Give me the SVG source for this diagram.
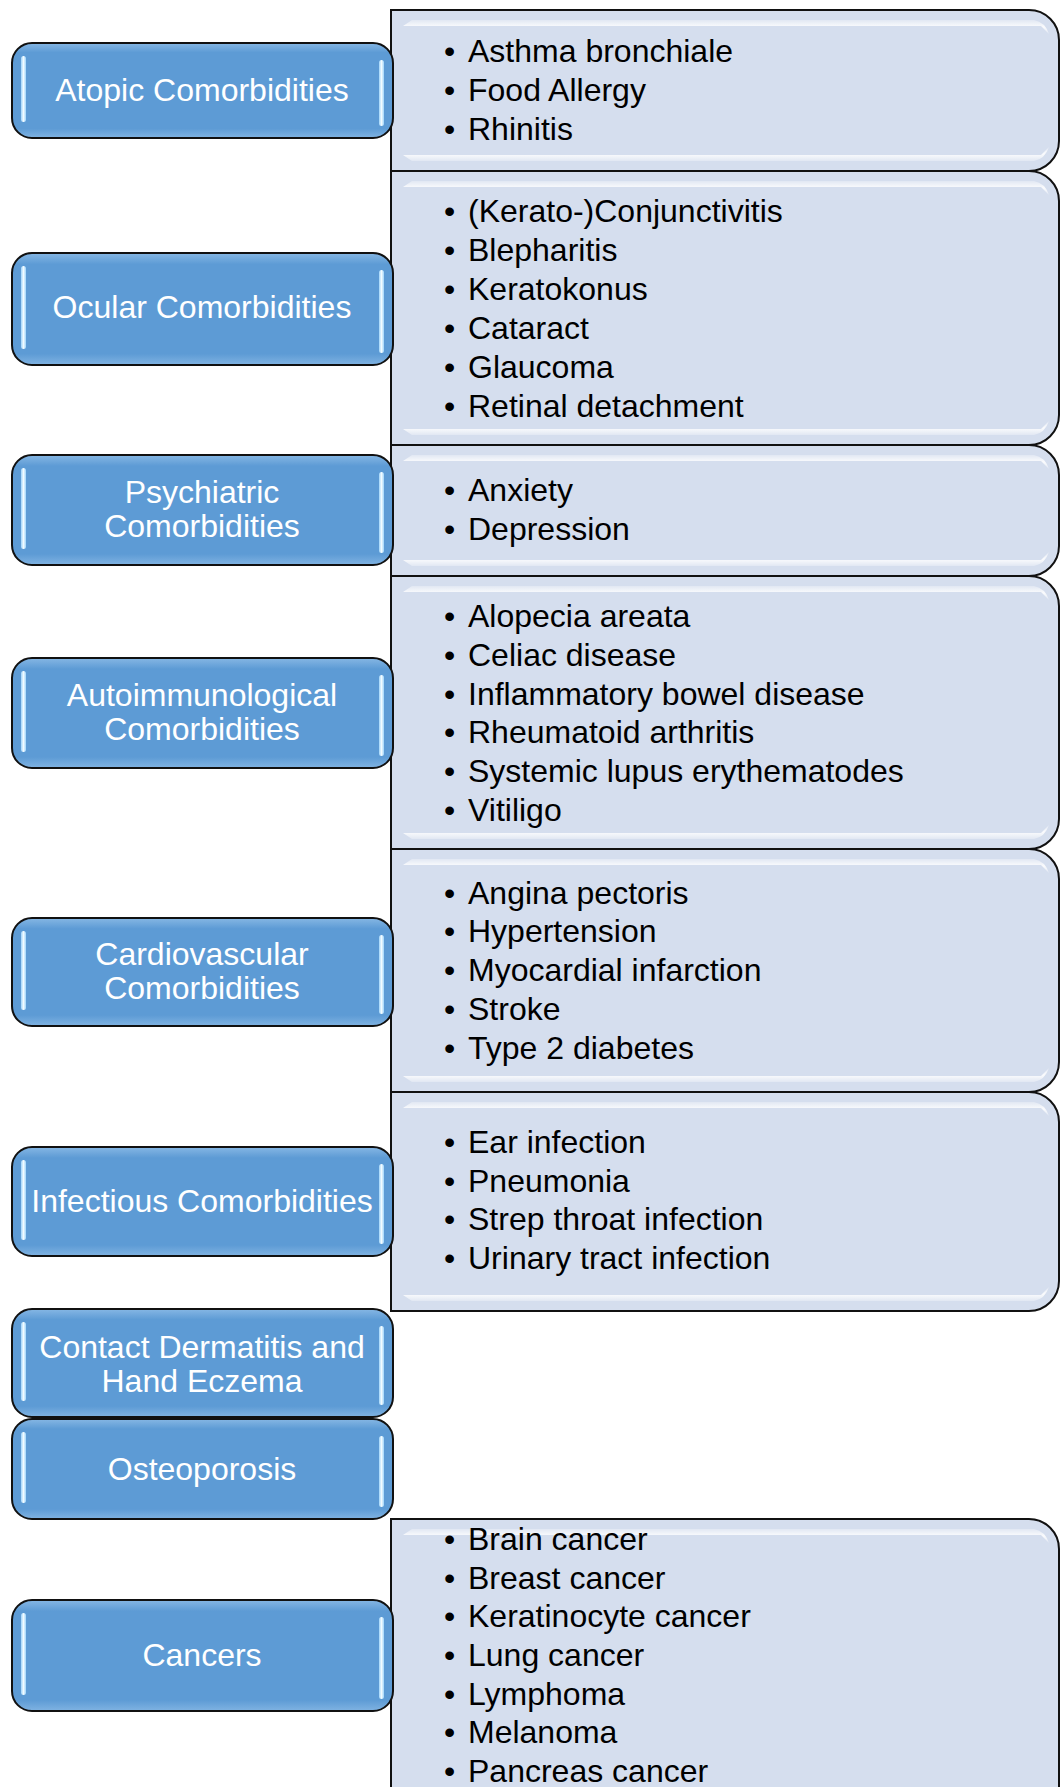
<svg xmlns="http://www.w3.org/2000/svg" width="1060" height="1787" viewBox="0 0 1060 1787">
<defs>
<linearGradient id="gBlue" x1="0" y1="0" x2="0" y2="1">
<stop offset="0" stop-color="#86B7E4"/>
<stop offset="0.1" stop-color="#5D9BD5"/>
<stop offset="0.9" stop-color="#5D9BD5"/>
<stop offset="1" stop-color="#80B3E2"/>
</linearGradient>
<linearGradient id="gBar" x1="0" y1="0" x2="1" y2="0">
<stop offset="0" stop-color="#9FD4FA"/>
<stop offset="0.5" stop-color="#F2FBFF"/>
<stop offset="1" stop-color="#9FD4FA"/>
</linearGradient>
<linearGradient id="gHi" x1="0" y1="0" x2="0" y2="1">
<stop offset="0" stop-color="#FFFFFF" stop-opacity="0.3"/>
<stop offset="0.5" stop-color="#FFFFFF" stop-opacity="0.9"/>
<stop offset="1" stop-color="#FFFFFF" stop-opacity="0.3"/>
</linearGradient>
</defs>
<style>
.lb{fill:url(#gBlue);stroke:#111;stroke-width:2}
.bar{fill:url(#gBar)}
.rb{fill:#D5DEEE;stroke:#111;stroke-width:2}
.hi{fill:url(#gHi)}
.lt{font-family:"Liberation Sans",Arial,sans-serif;font-size:32px;fill:#FFFFFF;text-anchor:middle}
.rt{font-family:"Liberation Sans",Arial,sans-serif;font-size:32px;fill:#000000}
</style>
<rect width="1060" height="1787" fill="#FFFFFF"/>

<g id="lists">
<g id="list-atopic">
<path class="rb" d="M391,10 H1029 A30,30 0 0 1 1059,40 V141 A30,30 0 0 1 1029,171 H391 Z"/>
<path class="hi" d="M403,26 L412,20 H1034 Q1045,22 1049,34 L1041,26 H412 Z"/>
<path class="hi" d="M403,155 L412,161 H1034 Q1045,159 1049,147 L1041,155 H412 Z"/>
<text class="rt" x="444" y="62">•</text><text class="rt" x="468" y="62">Asthma bronchiale</text>
<text class="rt" x="444" y="101">•</text><text class="rt" x="468" y="101">Food Allergy</text>
<text class="rt" x="444" y="140">•</text><text class="rt" x="468" y="140">Rhinitis</text>
</g>
<g id="list-ocular">
<path class="rb" d="M391,171 H1029 A30,30 0 0 1 1059,201 V415 A30,30 0 0 1 1029,445 H391 Z"/>
<path class="hi" d="M403,187 L412,181 H1034 Q1045,183 1049,195 L1041,187 H412 Z"/>
<path class="hi" d="M403,429 L412,435 H1034 Q1045,433 1049,421 L1041,429 H412 Z"/>
<text class="rt" x="444" y="222">•</text><text class="rt" x="468" y="222">(Kerato-)Conjunctivitis</text>
<text class="rt" x="444" y="261">•</text><text class="rt" x="468" y="261">Blepharitis</text>
<text class="rt" x="444" y="300">•</text><text class="rt" x="468" y="300">Keratokonus</text>
<text class="rt" x="444" y="339">•</text><text class="rt" x="468" y="339">Cataract</text>
<text class="rt" x="444" y="378">•</text><text class="rt" x="468" y="378">Glaucoma</text>
<text class="rt" x="444" y="417">•</text><text class="rt" x="468" y="417">Retinal detachment</text>
</g>
<g id="list-psychiatric">
<path class="rb" d="M391,445 H1029 A30,30 0 0 1 1059,475 V546 A30,30 0 0 1 1029,576 H391 Z"/>
<path class="hi" d="M403,461 L412,455 H1034 Q1045,457 1049,469 L1041,461 H412 Z"/>
<path class="hi" d="M403,560 L412,566 H1034 Q1045,564 1049,552 L1041,560 H412 Z"/>
<text class="rt" x="444" y="501">•</text><text class="rt" x="468" y="501">Anxiety</text>
<text class="rt" x="444" y="540">•</text><text class="rt" x="468" y="540">Depression</text>
</g>
<g id="list-autoimmune">
<path class="rb" d="M391,576 H1029 A30,30 0 0 1 1059,606 V819 A30,30 0 0 1 1029,849 H391 Z"/>
<path class="hi" d="M403,592 L412,586 H1034 Q1045,588 1049,600 L1041,592 H412 Z"/>
<path class="hi" d="M403,833 L412,839 H1034 Q1045,837 1049,825 L1041,833 H412 Z"/>
<text class="rt" x="444" y="627">•</text><text class="rt" x="468" y="627">Alopecia areata</text>
<text class="rt" x="444" y="666">•</text><text class="rt" x="468" y="666">Celiac disease</text>
<text class="rt" x="444" y="705">•</text><text class="rt" x="468" y="705">Inflammatory bowel disease</text>
<text class="rt" x="444" y="743">•</text><text class="rt" x="468" y="743">Rheumatoid arthritis</text>
<text class="rt" x="444" y="782">•</text><text class="rt" x="468" y="782">Systemic lupus erythematodes</text>
<text class="rt" x="444" y="821">•</text><text class="rt" x="468" y="821">Vitiligo</text>
</g>
<g id="list-cardio">
<path class="rb" d="M391,849 H1029 A30,30 0 0 1 1059,879 V1062 A30,30 0 0 1 1029,1092 H391 Z"/>
<path class="hi" d="M403,865 L412,859 H1034 Q1045,861 1049,873 L1041,865 H412 Z"/>
<path class="hi" d="M403,1076 L412,1082 H1034 Q1045,1080 1049,1068 L1041,1076 H412 Z"/>
<text class="rt" x="444" y="904">•</text><text class="rt" x="468" y="904">Angina pectoris</text>
<text class="rt" x="444" y="942">•</text><text class="rt" x="468" y="942">Hypertension</text>
<text class="rt" x="444" y="981">•</text><text class="rt" x="468" y="981">Myocardial infarction</text>
<text class="rt" x="444" y="1020">•</text><text class="rt" x="468" y="1020">Stroke</text>
<text class="rt" x="444" y="1059">•</text><text class="rt" x="468" y="1059">Type 2 diabetes</text>
</g>
<g id="list-infectious">
<path class="rb" d="M391,1092 H1029 A30,30 0 0 1 1059,1122 V1281 A30,30 0 0 1 1029,1311 H391 Z"/>
<path class="hi" d="M403,1108 L412,1102 H1034 Q1045,1104 1049,1116 L1041,1108 H412 Z"/>
<path class="hi" d="M403,1295 L412,1301 H1034 Q1045,1299 1049,1287 L1041,1295 H412 Z"/>
<text class="rt" x="444" y="1153">•</text><text class="rt" x="468" y="1153">Ear infection</text>
<text class="rt" x="444" y="1192">•</text><text class="rt" x="468" y="1192">Pneumonia</text>
<text class="rt" x="444" y="1230">•</text><text class="rt" x="468" y="1230">Strep throat infection</text>
<text class="rt" x="444" y="1269">•</text><text class="rt" x="468" y="1269">Urinary tract infection</text>
</g>
<g id="list-cancers">
<path class="rb" d="M391,1519 H1029 A30,30 0 0 1 1059,1549 V1795 H391 Z"/>
<path class="hi" d="M403,1535 L412,1529 H1034 Q1045,1531 1049,1543 L1041,1535 H412 Z"/>
<text class="rt" x="444" y="1550">•</text><text class="rt" x="468" y="1550">Brain cancer</text>
<text class="rt" x="444" y="1589">•</text><text class="rt" x="468" y="1589">Breast cancer</text>
<text class="rt" x="444" y="1627">•</text><text class="rt" x="468" y="1627">Keratinocyte cancer</text>
<text class="rt" x="444" y="1666">•</text><text class="rt" x="468" y="1666">Lung cancer</text>
<text class="rt" x="444" y="1705">•</text><text class="rt" x="468" y="1705">Lymphoma</text>
<text class="rt" x="444" y="1743">•</text><text class="rt" x="468" y="1743">Melanoma</text>
<text class="rt" x="444" y="1782">•</text><text class="rt" x="468" y="1782">Pancreas cancer</text>
</g>
</g>

<g id="categories">
<g id="cat-atopic">
<rect class="lb" x="12" y="43" width="381" height="95" rx="20"/>
<rect class="bar" x="21" y="56" width="5" height="66" rx="2.5"/>
<rect class="bar" x="379" y="60" width="5" height="66" rx="2.5"/>
<text class="lt" x="202" y="101">Atopic Comorbidities</text>
</g>
<g id="cat-ocular">
<rect class="lb" x="12" y="253" width="381" height="112" rx="20"/>
<rect class="bar" x="21" y="266" width="5" height="83" rx="2.5"/>
<rect class="bar" x="379" y="270" width="5" height="83" rx="2.5"/>
<text class="lt" x="202" y="318">Ocular Comorbidities</text>
</g>
<g id="cat-psychiatric">
<rect class="lb" x="12" y="455" width="381" height="110" rx="20"/>
<rect class="bar" x="21" y="468" width="5" height="81" rx="2.5"/>
<rect class="bar" x="379" y="472" width="5" height="81" rx="2.5"/>
<text class="lt" x="202" y="503">Psychiatric</text>
<text class="lt" x="202" y="537">Comorbidities</text>
</g>
<g id="cat-autoimmune">
<rect class="lb" x="12" y="658" width="381" height="110" rx="20"/>
<rect class="bar" x="21" y="671" width="5" height="81" rx="2.5"/>
<rect class="bar" x="379" y="675" width="5" height="81" rx="2.5"/>
<text class="lt" x="202" y="706">Autoimmunological</text>
<text class="lt" x="202" y="740">Comorbidities</text>
</g>
<g id="cat-cardio">
<rect class="lb" x="12" y="918" width="381" height="108" rx="20"/>
<rect class="bar" x="21" y="931" width="5" height="79" rx="2.5"/>
<rect class="bar" x="379" y="935" width="5" height="79" rx="2.5"/>
<text class="lt" x="202" y="965">Cardiovascular</text>
<text class="lt" x="202" y="999">Comorbidities</text>
</g>
<g id="cat-infectious">
<rect class="lb" x="12" y="1147" width="381" height="109" rx="20"/>
<rect class="bar" x="21" y="1160" width="5" height="80" rx="2.5"/>
<rect class="bar" x="379" y="1164" width="5" height="80" rx="2.5"/>
<text class="lt" x="202" y="1212">Infectious Comorbidities</text>
</g>
<g id="cat-contact">
<rect class="lb" x="12" y="1309" width="381" height="108" rx="20"/>
<rect class="bar" x="21" y="1322" width="5" height="79" rx="2.5"/>
<rect class="bar" x="379" y="1326" width="5" height="79" rx="2.5"/>
<text class="lt" x="202" y="1358">Contact Dermatitis and</text>
<text class="lt" x="202" y="1392">Hand Eczema</text>
</g>
<g id="cat-osteoporosis">
<rect class="lb" x="12" y="1419" width="381" height="100" rx="20"/>
<rect class="bar" x="21" y="1432" width="5" height="71" rx="2.5"/>
<rect class="bar" x="379" y="1436" width="5" height="71" rx="2.5"/>
<text class="lt" x="202" y="1480">Osteoporosis</text>
</g>
<g id="cat-cancers">
<rect class="lb" x="12" y="1600" width="381" height="111" rx="20"/>
<rect class="bar" x="21" y="1613" width="5" height="82" rx="2.5"/>
<rect class="bar" x="379" y="1617" width="5" height="82" rx="2.5"/>
<text class="lt" x="202" y="1666">Cancers</text>
</g>
</g>
<g id="connectors"/>
</svg>
